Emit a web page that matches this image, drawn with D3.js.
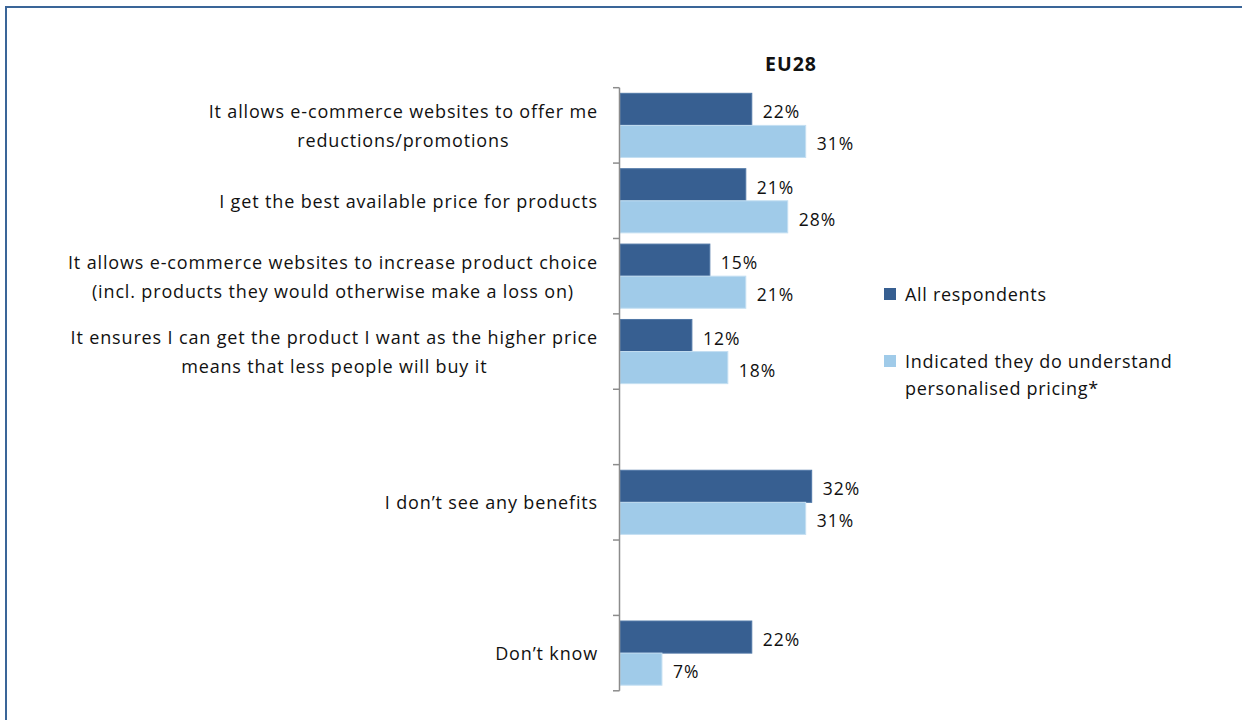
<!DOCTYPE html>
<html>
<head>
<meta charset="utf-8">
<script src="https://cdn.jsdelivr.net/npm/d3@7"></script>
<style>
  html, body { margin: 0; padding: 0; background: #fff; }
  svg { display: block; }
  text { font-family: "Open Sans", Lato, sans-serif; fill: #111; }
</style>
</head>
<body>
<svg id="chart" width="1242" height="720"></svg>
<script>
// Answer categories (null marks an empty spacer row between groups)
const categories = [
  ["It allows e-commerce websites to offer me", "reductions/promotions"],
  ["I get the best available price for products"],
  ["It allows e-commerce websites to increase product choice", "(incl. products they would otherwise make a loss on)"],
  ["It ensures I can get the product I want as the higher price", "means that less people will buy it"],
  null,
  ["I don\u2019t see any benefits"],
  null,
  ["Don\u2019t know"]
];
const seriesNames = ["All respondents", "Indicated they do understand personalised pricing*"];
const allRespondents = [22, 21, 15, 12, null, 32, null, 22];
const understandPricing = [31, 28, 21, 18, null, 31, null, 7];
const title = "EU28";

const colors = ["#375F91", "#A0CBE9"];
const svg = d3.select("#chart");

// Outer frame (only top and left edges fall inside the canvas)
svg.append("rect")
  .attr("x", 6).attr("y", 7).attr("width", 1400).attr("height", 900)
  .attr("fill", "none").attr("stroke", "#3A6598").attr("stroke-width", 2);

const slotIds = categories.map((d, i) => "s" + i);
const y = d3.scaleBand().domain(slotIds).range([87.7, 690.8]).paddingInner(0).paddingOuter(0);
const ySeries = d3.scaleBand().domain([0, 1]).range([0, y.bandwidth()]).paddingInner(0).paddingOuter(0.175);
const x = d3.scaleLinear().domain([0, 35]).range([620, 620 + 35 * 5.99]);

// Title
svg.append("text")
  .attr("x", 791).attr("y", 63)
  .attr("text-anchor", "middle").attr("dominant-baseline", "central")
  .style("font-weight", "bold").style("font-size", "19.5px").style("letter-spacing", "1px")
  .text(title);

// Bars
const rows = slotIds.map((id, i) => ({ id, vals: [allRespondents[i], understandPricing[i]] }))
  .filter(r => r.vals[0] != null);

const g = svg.append("g");
rows.forEach(r => {
  r.vals.forEach((v, k) => {
    const by = y(r.id) + ySeries(k);
    g.append("rect")
      .attr("x", x(0)).attr("y", by)
      .attr("width", x(v) - x(0)).attr("height", ySeries.bandwidth())
      .attr("fill", colors[k])
      .attr("stroke", k === 0 ? "#4F77A6" : "#C4DFF2").attr("stroke-width", 1);
    g.append("text")
      .attr("x", x(v) + 11).attr("y", by + ySeries.bandwidth() / 2 + 2)
      .attr("dominant-baseline", "central")
      .style("font-size", "17.5px").style("letter-spacing", "1px")
      .text(v + "%");
  });
});

// Category axis: vertical line with ticks at every band boundary
const axisG = svg.append("g");
const axisTop = y.range()[0], axisBottom = y.range()[1];
axisG.append("line")
  .attr("x1", 619.5).attr("x2", 619.5).attr("y1", axisTop).attr("y2", axisBottom)
  .attr("stroke", "#8C8C8C").attr("stroke-width", 1.5);
const boundaries = slotIds.map(id => y(id)).concat([axisBottom]);
axisG.selectAll("line.tick").data(boundaries).join("line")
  .attr("class", "tick")
  .attr("x1", 613).attr("x2", 619.5)
  .attr("y1", d => d).attr("y2", d => d)
  .attr("stroke", "#8C8C8C").attr("stroke-width", 1.5);

// Category labels: centred lines, block right-aligned against the axis
const lineGap = 29;
categories.forEach((lines, i) => {
  if (!lines) return;
  const cy = y(slotIds[i]) + y.bandwidth() / 2;
  const t = svg.append("text").style("font-size", "18px").style("letter-spacing", "0.85px")
    .attr("text-anchor", "middle");
  const spans = lines.map((ln, j) => t.append("tspan")
    .attr("y", cy + (j - (lines.length - 1) / 2) * lineGap)
    .attr("dominant-baseline", "central")
    .text(ln));
  const maxW = d3.max(spans, s => s.node().getComputedTextLength());
  spans.forEach(s => s.attr("x", 598 - maxW / 2));
});

// Legend
const legend = svg.append("g");
const legendItems = [
  { lines: ["All respondents"], y: 294 },
  { lines: ["Indicated they do understand", "personalised pricing*"], y: 361 }
];
legendItems.forEach((it, k) => {
  legend.append("rect")
    .attr("x", 884).attr("y", it.y - 6).attr("width", 12).attr("height", 12)
    .attr("fill", colors[k]);
  const t = legend.append("text").style("font-size", "18px").style("letter-spacing", "0.7px");
  it.lines.forEach((ln, j) => t.append("tspan")
    .attr("x", 905).attr("y", it.y + j * 27)
    .attr("dominant-baseline", "central").text(ln));
});
</script>
</body>
</html>
